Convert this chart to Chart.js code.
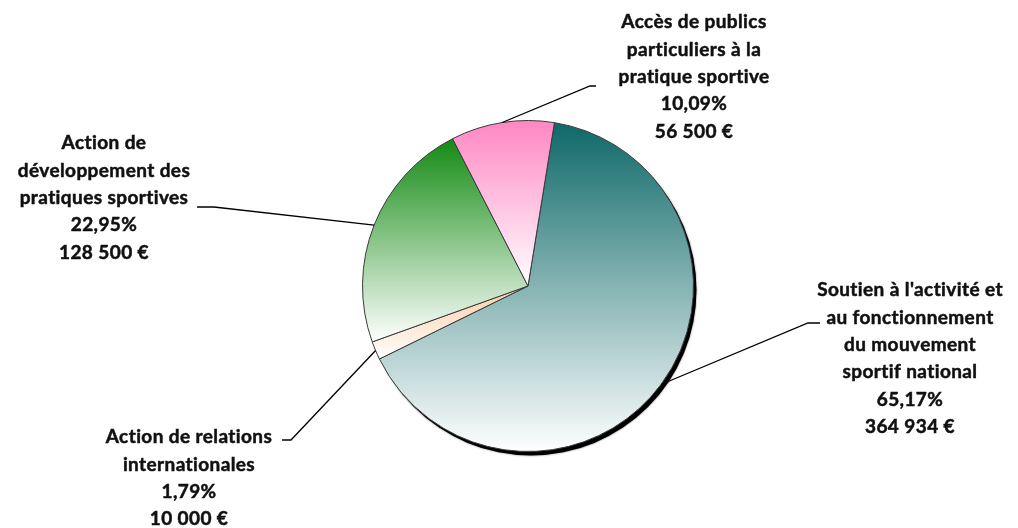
<!DOCTYPE html>
<html>
<head>
<meta charset="utf-8">
<script src="https://cdn.jsdelivr.net/npm/chart.js@4/dist/chart.umd.min.js"></script>
<style>
  html, body { margin: 0; padding: 0; background: #fff; }
  #wrap { width: 1018px; height: 528px; position: relative; }
</style>
</head>
<body>
<div id="wrap"><canvas id="budgetChart"></canvas></div>
<script>
const categories = [
    "Soutien à l'activité et au fonctionnement du mouvement sportif national",
    "Action de relations internationales",
    "Action de développement des pratiques sportives",
    "Accès de publics particuliers à la pratique sportive"
];
const amounts = [364934, 10000, 128500, 56500];
const percentLabels = ["65,17%", "1,79%", "22,95%", "10,09%"];
const amountLabels = ["364 934 €", "10 000 €", "128 500 €", "56 500 €"];
const labelLines = [
    ["Soutien à l'activité et", "au fonctionnement", "du mouvement", "sportif national"],
    ["Action de relations", "internationales"],
    ["Action de", "développement des", "pratiques sportives"],
    ["Accès de publics", "particuliers à la", "pratique sportive"]
];
const sliceColors = ["#0e6868", "#fbcca4", "#138a13", "#ff86c3"];
const startRotation = 9.2;

// where each label block sits, and the short horizontal tick of its leader line
const labelBoxes = [
    { x: 910, y: 290, tick: [820, 323], elbow: [808, 323] },
    { x: 189, y: 437, tick: [282, 440], elbow: [291, 440] },
    { x: 104, y: 143, tick: [197, 207], elbow: [214, 207] },
    { x: 694, y: 22,  tick: [596, 86],  elbow: [590, 86] }
];
const lineHeight = 27.4;

function sliceGradient(context) {
    const chart = context.chart;
    const area = chart.chartArea;
    const i = context.dataIndex;
    if (!area || i === undefined) return sliceColors[i];
    const cx = (area.left + area.right) / 2;
    const cy = (area.top + area.bottom) / 2;
    const r = Math.min(area.width, area.height) / 2;
    const total = amounts.reduce((a, b) => a + b, 0);
    let start = -Math.PI / 2 + startRotation * Math.PI / 180;
    for (let k = 0; k < i; k++) start += amounts[k] / total * 2 * Math.PI;
    const end = start + amounts[i] / total * 2 * Math.PI;
    const ys = [cy, cy + r * Math.sin(start), cy + r * Math.sin(end)];
    [-Math.PI / 2, Math.PI / 2, 3 * Math.PI / 2, 5 * Math.PI / 2].forEach(a => {
        if (a > start && a < end) ys.push(cy + r * Math.sin(a));
    });
    const g = chart.ctx.createLinearGradient(0, Math.min(...ys), 0, Math.max(...ys));
    g.addColorStop(0, sliceColors[i]);
    g.addColorStop(1, "#ffffff");
    return g;
}

const shadowPlugin = {
    id: "pieShadow",
    beforeDatasetsDraw(chart) {
        const arc = chart.getDatasetMeta(0).data[0];
        if (!arc) return;
        const ctx = chart.ctx;
        ctx.save();
        ctx.fillStyle = "#000";
        ctx.shadowColor = "rgba(0,0,0,0.6)";
        ctx.shadowBlur = 2;
        ctx.beginPath();
        ctx.arc(arc.x + 3, arc.y + 4, arc.outerRadius, 0, Math.PI * 2);
        ctx.fill();
        ctx.restore();
    }
};

const labelPlugin = {
    id: "sliceLabels",
    afterDatasetsDraw(chart) {
        const ctx = chart.ctx;
        const arcs = chart.getDatasetMeta(0).data;
        ctx.save();
        arcs.forEach((arc, i) => {
            const box = labelBoxes[i];
            const mid = (arc.startAngle + arc.endAngle) / 2;
            const ax = arc.x + Math.cos(mid) * arc.outerRadius;
            const ay = arc.y + Math.sin(mid) * arc.outerRadius;
            ctx.strokeStyle = "#000";
            ctx.lineWidth = 1.3;
            ctx.beginPath();
            ctx.moveTo(box.tick[0], box.tick[1]);
            ctx.lineTo(box.elbow[0], box.elbow[1]);
            ctx.lineTo(ax, ay);
            ctx.stroke();

            const lines = labelLines[i].concat([percentLabels[i], amountLabels[i]]);
            ctx.fillStyle = "#111";
            ctx.strokeStyle = "#111";
            ctx.lineWidth = 0.5;
            ctx.font = "bold 19px Lato";
            ctx.letterSpacing = "0.4px";
            ctx.textAlign = "center";
            ctx.textBaseline = "middle";
            lines.forEach((t, n) => {
                ctx.fillText(t, box.x, box.y + n * lineHeight);
                ctx.strokeText(t, box.x, box.y + n * lineHeight);
            });
        });
        ctx.restore();
    }
};

new Chart(document.getElementById("budgetChart"), {
    type: "pie",
    data: {
        labels: categories,
        datasets: [{
            data: amounts,
            backgroundColor: sliceGradient,
            borderColor: "#3a3a3a",
            borderWidth: 1
        }]
    },
    options: {
        responsive: true,
        maintainAspectRatio: false,
        animation: false,
        rotation: startRotation,
        layout: { padding: { left: 362, right: 324, top: 120, bottom: 76 } },
        plugins: {
            legend: { display: false },
            tooltip: { enabled: false }
        }
    },
    plugins: [shadowPlugin, labelPlugin]
});
</script>
</body>
</html>
